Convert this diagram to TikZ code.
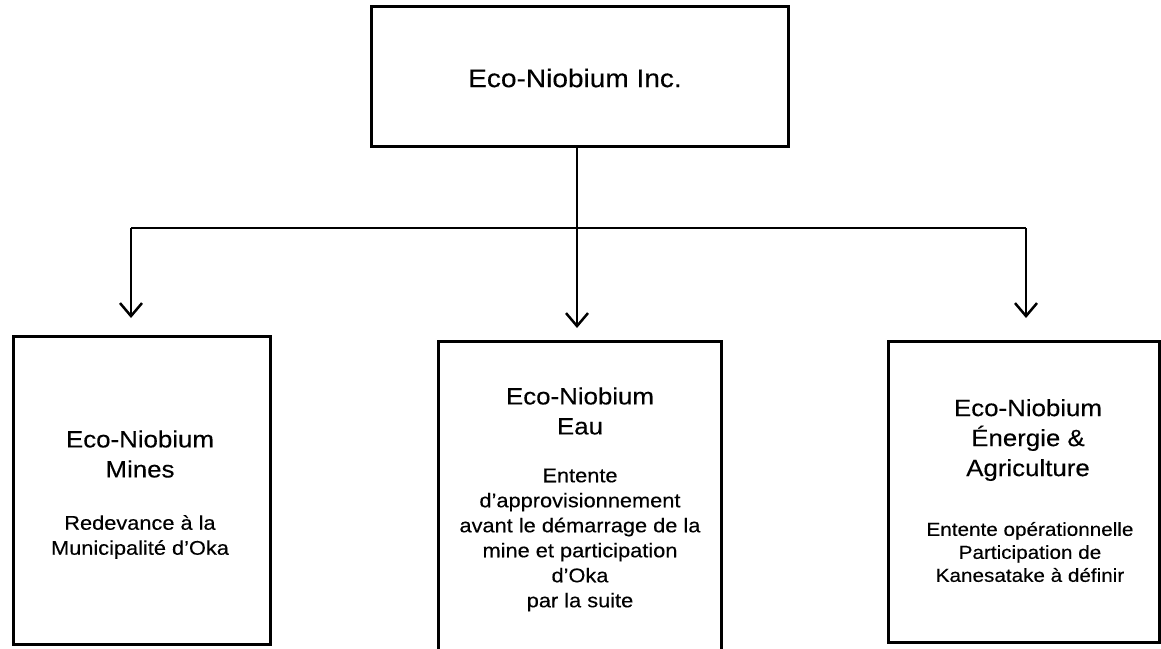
\documentclass[tikz,border=0pt]{standalone}
\usepackage{fontspec}
\setmainfont{Liberation Sans}[FakeStretch=1.1,FakeBold=0.3]
\usetikzlibrary{arrows.meta}
\begin{document}
\begin{tikzpicture}[x=1pt,y=-1pt,
  box/.style={draw, line width=2.9pt, inner sep=0pt, anchor=north west},
  conn/.style={line width=2.5pt},
  arr/.style={conn, -{Straight Barb[length=13pt,width=22pt,line width=2.5pt]}},
  ttl/.style={align=center, inner sep=0pt, font=\fontsize{23.5}{30}\selectfont},
  dsc/.style={align=center, inner sep=0pt, font=\fontsize{19.8}{25}\selectfont},
]
\useasboundingbox (0,0) rectangle (1161,648);
% boxes
\node[box, minimum width=417pt, minimum height=140pt] (top) at (370,5) {};
\node[box, minimum width=257pt, minimum height=308pt] (mines) at (12,335) {};
\node[box, minimum width=283pt, minimum height=340pt] (eau) at (437,340) {};
\node[box, minimum width=271pt, minimum height=301pt] (energie) at (887,340) {};
% texts
\node[ttl, font=\fontsize{25.5}{30}\selectfont] (t0) at (575,78) {Eco-Niobium Inc.};
\node[ttl] (t1) at (140,454) {Eco-Niobium\\Mines};
\node[dsc] (d1) at (140,537) {Redevance à la\\Municipalité d'Oka};
\node[ttl] (t2) at (580,411) {Eco-Niobium\\Eau};
\node[dsc] (d2) at (580,540) {Entente\\d’approvisionnement\\avant le démarrage de la\\mine et participation\\d’Oka\\par la suite};
\node[ttl] (t3) at (1028,440) {Eco-Niobium\\Énergie \&\\Agriculture};
\node[dsc, font=\fontsize{18.8}{23}\selectfont] (d3) at (1030,552) {Entente opérationnelle\\Participation de\\Kanesatake à définir};
% connectors
\coordinate (jl) at (131,228);
\coordinate (jr) at (1026,228);
\coordinate (jm) at (577,228);
\draw[conn] (top.south -| jm) -- (jm);
\draw[conn] (jl) -- (jr);
\draw[arr] (jl) -- ([yshift=17pt]mines.north -| jl);
\draw[arr] (jm) -- ([yshift=12pt]eau.north -| jm);
\draw[arr] (jr) -- ([yshift=22pt]energie.north -| jr);
\end{tikzpicture}
\end{document}
